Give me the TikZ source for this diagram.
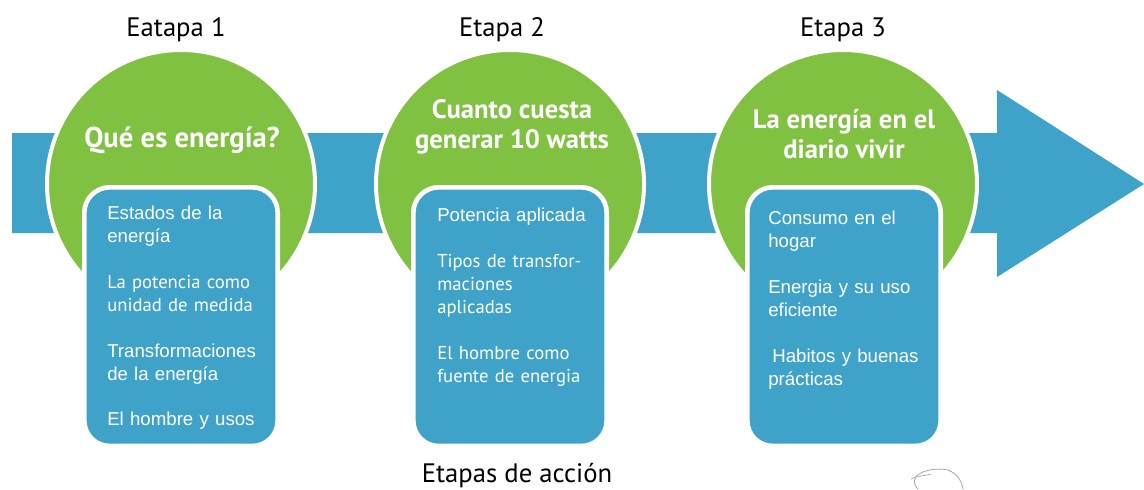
\documentclass[tikz,border=0pt]{standalone}
\usepackage{fontspec}
\setmainfont{Liberation Sans}
\newfontfamily\myriad{PT Sans}
\usetikzlibrary{positioning}

\definecolor{verde}{RGB}{128,193,66}
\definecolor{azul}{RGB}{63,162,201}

\begin{document}
\begin{tikzpicture}[x=0.75pt, y=0.75pt,
	etapa/.style = {font=\myriad\fontsize{20}{24}\selectfont, anchor=base},
	circulo/.style = {circle, fill=verde, draw=white, line width=3pt, minimum size=201pt, inner sep=0pt},
	caja/.style = {draw=white, fill=azul, line width=3.5pt, rounded corners=19pt, minimum width=145pt, minimum height=194pt, anchor=north},
	tema/.style = {font=\myriad\bfseries\fontsize{21.5}{22.5}\selectfont, text=white, align=center, anchor=base},
	tema2/.style = {tema, font=\myriad\bfseries\fontsize{20}{22.5}\selectfont},
	items/.style = {font=\fontsize{14}{17.25}\selectfont, text=white, text width=126pt, align=left, anchor=north west, inner sep=0pt}]
	\useasboundingbox (0,0) rectangle (1144,-489);
	% Flecha
	\fill[azul] (12,-133) -- (997,-133) -- (997,-90) -- (1144,-184) -- (997,-277) -- (997,-233) -- (12,-233) -- cycle;
	% Circulos
	\node[circulo] (c1) at (181,-184) {};
	\node[circulo] (c2) at (510,-184) {};
	\node[circulo] (c3) at (843,-184) {};
	% Cajas
	\node[caja] (b1) at (181,-185) {};
	\node[caja] (b2) at (510,-185) {};
	\node[caja] (b3) at (844,-185) {};
	% Etapas
	\node[etapa] (e1) at (176,-36) {Eatapa 1};
	\node[etapa] (e2) at (502,-36) {Etapa 2};
	\node[etapa] (e3) at (843,-36) {Etapa 3};
	\node[etapa] (pie) at (517,-482) {Etapas de acción};
	% Titulos (base = ultima linea)
	\node[tema] (q1) at (182,-147) {Qué es energía?};
	\node[tema2] (q2) at (512,-148) {Cuanto cuesta\\generar 10 watts};
	\node[tema2] (q3) at (844,-158) {La energía en el\\diario vivir};
	% Temas de cada etapa
	\node[items] (i1) at (107,-206) {Estados de la\\energía\\[17pt]
		{\myriad La potencia como}\\{\myriad unidad de medida}\\[17pt]
		Transformaciones\\de la energía\\[17pt]
		El hombre y usos};
	\node[items] (i2) at (437,-208) {Potencia aplicada\\[17pt]
		{\myriad Tipos de transfor-}\\{\myriad maciones}\\{\myriad aplicadas}\\[17pt]
		{\myriad El hombre como}\\{\myriad fuente de energia}};
	\node[items] (i3) at (768,-211) {Consumo en el\\hogar\\[17pt]
		Energia y su uso\\eficiente\\[17pt]
		\hspace*{3pt}Habitos y buenas\\prácticas};
	% Dibujo
	\draw[gray!70, line width=0.6pt] (918,-489) .. controls (905,-476) and (928,-466) .. (948,-470) .. controls (958,-474) and (962,-482) .. (963,-489);
	\draw[gray!70, line width=0.5pt] (911,-479) .. controls (918,-475) and (926,-476) .. (931,-474);
\end{tikzpicture}
\end{document}
